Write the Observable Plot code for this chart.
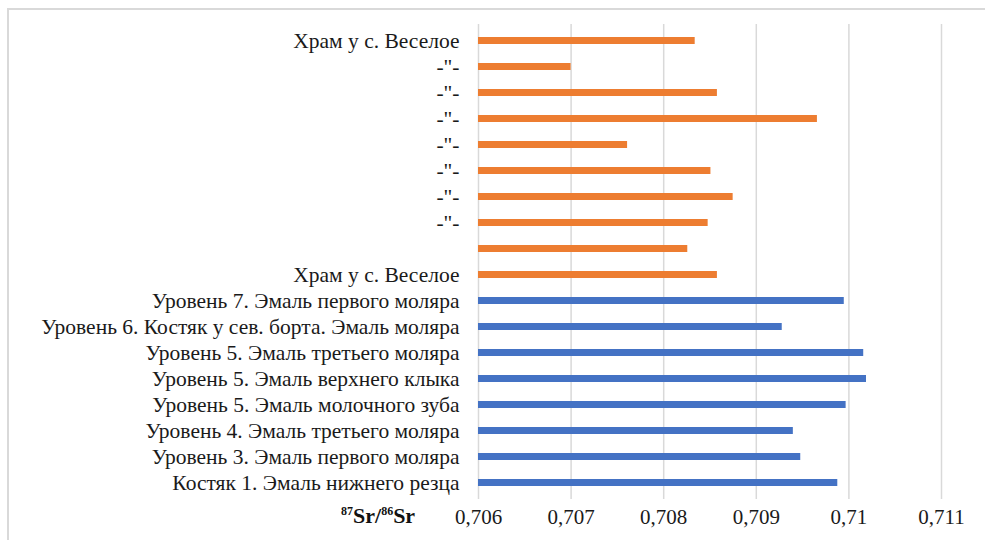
<!DOCTYPE html>
<html>
<head>
<meta charset="utf-8">
<script src="https://cdn.jsdelivr.net/npm/d3@7"></script>
<script src="https://cdn.jsdelivr.net/npm/@observablehq/plot@0.6"></script>
<style>
  html, body { margin: 0; padding: 0; background: #fff; }
  #wrap { position: relative; width: 985px; height: 540px; overflow: hidden; font-family: "Liberation Serif", "Times New Roman", serif; }
  #frame { position: absolute; left: 7px; top: 8px; width: 990px; height: 540px; border-left: 2px solid #d9d9d9; border-top: 2px solid #d9d9d9; box-sizing: border-box; }
  #chart { position: absolute; left: 0; top: 0; }
  #xlabel { position: absolute; left: 341px; top: 503px; font-family: "Liberation Serif", serif; font-weight: bold; font-size: 22px; color: #111; }
  #xlabel sup { font-size: 12px; vertical-align: 0; position: relative; top: -8px; }
</style>
</head>
<body>
<div id="wrap">
  <div id="frame"></div>
  <div id="chart"></div>
  <div id="xlabel"><sup>87</sup>Sr/<sup>86</sup>Sr</div>
</div>
<script>
// Row labels, top to bottom
const labels = [
  "Храм у с. Веселое",
  "-\"-",
  "-\"-",
  "-\"-",
  "-\"-",
  "-\"-",
  "-\"-",
  "-\"-",
  "",
  "Храм у с. Веселое",
  "Уровень 7. Эмаль первого моляра",
  "Уровень 6. Костяк у сев. борта. Эмаль моляра",
  "Уровень 5. Эмаль третьего моляра",
  "Уровень 5. Эмаль верхнего клыка",
  "Уровень 5. Эмаль молочного зуба",
  "Уровень 4. Эмаль третьего моляра",
  "Уровень 3. Эмаль первого моляра",
  "Костяк 1. Эмаль нижнего резца"
];
// 87Sr/86Sr values, top to bottom
const values = [
  0.70834, 0.70700, 0.70858, 0.70966, 0.70761,
  0.70851, 0.70875, 0.70848, 0.70826, 0.70858,
  0.70995, 0.70928, 0.71016, 0.71019, 0.70997,
  0.70940, 0.70948, 0.70988
];
// group of each row
const groups = [
  "temple","temple","temple","temple","temple",
  "temple","temple","temple","temple","temple",
  "cave","cave","cave","cave","cave","cave","cave","cave"
];
const xTicks = [0.706, 0.707, 0.708, 0.709, 0.710, 0.711];
const xTickLabels = ["0,706", "0,707", "0,708", "0,709", "0,71", "0,711"];

const rows = values.map((v, i) => ({i, v, g: groups[i], label: labels[i]}));

const chart = Plot.plot({
  width: 985,
  height: 540,
  marginLeft: 478,
  marginRight: 44,
  marginTop: 24,
  marginBottom: 41,
  style: { fontFamily: "'Liberation Serif', 'Times New Roman', serif", background: "transparent", color: "#1a1a1a" },
  x: { domain: [xTicks[0], xTicks[xTicks.length - 1]], ticks: xTicks, tickFormat: (d) => xTickLabels[xTicks.indexOf(d)] },
  y: { domain: d3.range(values.length), paddingInner: 0.73, paddingOuter: 0.365, label: null },
  color: { domain: ["temple", "cave"], range: ["#ED7D31", "#4472C4"] },
  marks: [
    Plot.ruleX(xTicks, { stroke: "#d9d9d9", strokeWidth: 1.5 }),
    Plot.barX(rows, { y: "i", x1: () => xTicks[0], x2: "v", fill: "g" }),
    Plot.axisX({ ticks: xTicks, tickFormat: (d) => xTickLabels[xTicks.indexOf(d)], tickSize: 0, tickPadding: 10, fontSize: 21, label: null, fill: "#1a1a1a" }),
    Plot.axisY({ tickSize: 0, tickPadding: 19, tickFormat: (i) => labels[i], fontSize: 21.5, label: null, fill: "#1a1a1a" })
  ]
});
document.getElementById("chart").appendChild(chart);
</script>
</body>
</html>
